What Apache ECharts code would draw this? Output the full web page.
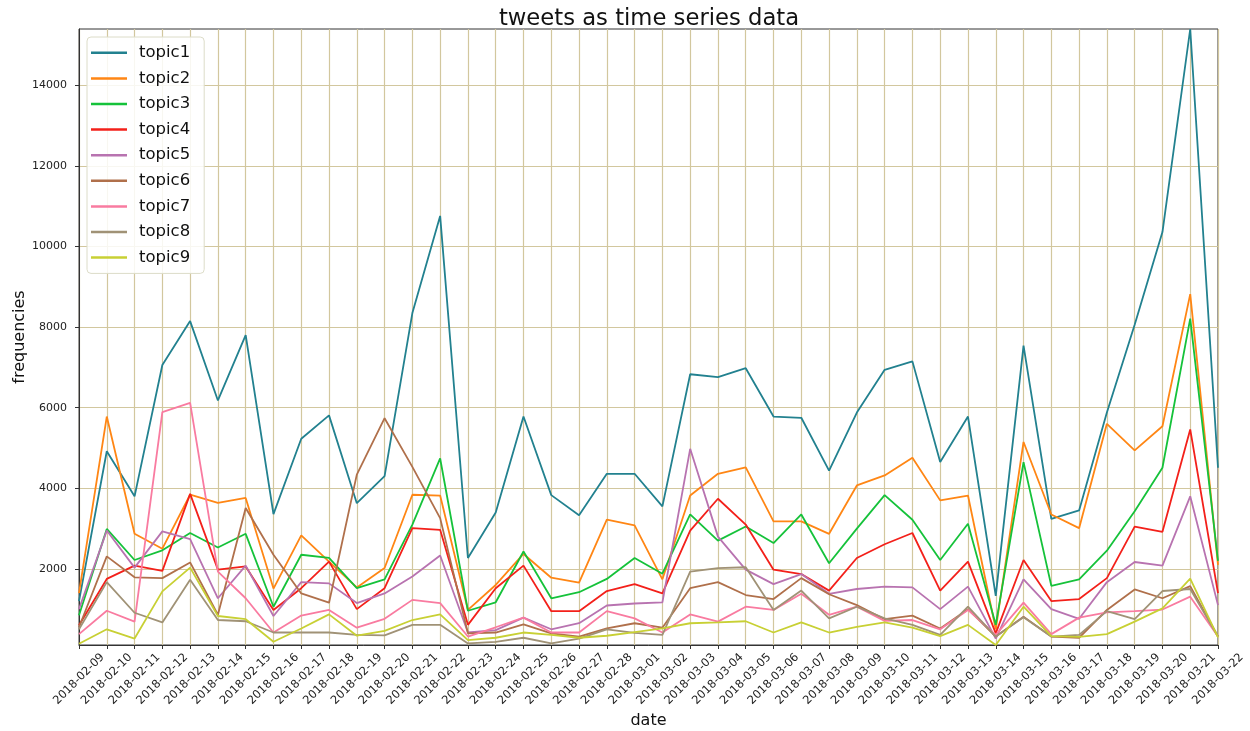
<!DOCTYPE html>
<html>
<head>
<meta charset="utf-8">
<script src="https://cdn.jsdelivr.net/npm/echarts@6/dist/echarts.min.js"></script>
<style>
html,body{margin:0;padding:0;background:#fff;}
#chart{width:1250px;height:731px;}
</style>
</head>
<body>
<div id="chart"></div>
<script>
var dates = ['2018-02-09','2018-02-10','2018-02-11','2018-02-12','2018-02-13','2018-02-14','2018-02-15','2018-02-16','2018-02-17','2018-02-18','2018-02-19','2018-02-20','2018-02-21','2018-02-22','2018-02-23','2018-02-24','2018-02-25','2018-02-26','2018-02-27','2018-02-28','2018-03-01','2018-03-02','2018-03-03','2018-03-04','2018-03-05','2018-03-06','2018-03-07','2018-03-08','2018-03-09','2018-03-10','2018-03-11','2018-03-12','2018-03-13','2018-03-14','2018-03-15','2018-03-16','2018-03-17','2018-03-18','2018-03-19','2018-03-20','2018-03-21','2018-03-22'];

var topic1 = [1200,4920,3800,7060,8150,6180,7800,3360,5230,5810,3630,4300,8350,10760,2270,3400,5780,3830,3330,4360,4360,3550,6830,6760,6980,5780,5750,4440,5880,6940,7150,4650,5780,1330,7540,3240,3450,5880,8060,10360,15400,4510];
var topic2 = [1400,5780,2870,2500,3840,3640,3760,1510,2830,2180,1540,2020,3840,3820,980,1600,2370,1780,1660,3220,3080,1740,3820,4360,4520,3180,3180,2870,4070,4320,4760,3700,3820,500,5150,3350,3010,5600,4940,5540,8820,2100];
var topic3 = [850,2990,2220,2460,2890,2530,2870,1060,2350,2270,1520,1740,3100,4740,960,1170,2430,1270,1420,1750,2270,1880,3350,2700,3050,2640,3350,2140,3000,3830,3220,2220,3120,610,4650,1580,1740,2450,3430,4510,8210,2200];
var topic4 = [600,1750,2080,1950,3860,1980,2060,980,1520,2180,1000,1520,3010,2970,610,1520,2080,950,950,1450,1620,1390,2950,3740,3100,1980,1870,1460,2270,2610,2890,1460,2180,400,2220,1200,1250,1770,3050,2920,5460,1400];
var topic5 = [1000,2950,2030,2930,2740,1270,2080,830,1670,1640,1150,1390,1810,2330,420,480,790,500,650,1090,1140,1170,4980,2800,1980,1620,1870,1380,1500,1560,1540,1000,1560,270,1740,1000,760,1670,2170,2080,3800,1100];
var topic6 = [550,2310,1790,1770,2160,860,3510,2350,1390,1160,4340,5740,4530,3260,400,420,620,400,320,520,650,540,1520,1670,1350,1250,1770,1370,1100,750,840,520,1000,320,810,320,290,980,1490,1270,1570,320];
var topic7 = [380,960,690,5890,6120,1930,1270,420,840,980,540,760,1230,1150,320,550,790,420,420,950,770,420,870,690,1060,980,1380,860,1060,710,730,500,980,360,1160,380,790,920,950,990,1310,320];
var topic8 = [500,1670,910,670,1730,730,700,420,420,420,360,350,610,610,150,190,290,150,270,500,410,360,1930,2020,2040,980,1460,770,1060,770,610,360,1060,320,800,320,360,950,750,1450,1500,320];
var topic9 = [140,500,270,1440,2030,830,750,190,520,870,340,460,730,870,230,290,420,360,290,340,430,520,650,670,700,420,670,420,560,670,540,330,610,110,1060,330,310,380,690,1020,1760,300];

var seriesNames = ['topic1','topic2','topic3','topic4','topic5','topic6','topic7','topic8','topic9'];
var seriesData = [topic1,topic2,topic3,topic4,topic5,topic6,topic7,topic8,topic9];
var colors = ['#22818f','#ff8614','#15c23a','#f3201a','#b873b0','#b0704b','#f97ba0','#a09276','#c8d034'];
var yTicks = [2000,4000,6000,8000,10000,12000,14000];

var gridColor = '#d2c79e';
var font = 'DejaVu Sans';

var chart = echarts.init(document.getElementById('chart'), null, {renderer:'canvas'});
var option = {
  animation: false,
  color: colors,
  title: {
    text: 'tweets as time series data',
    left: 644, textAlign: 'center', top: 3,
    textStyle: {fontFamily: font, fontSize: 22.7, fontWeight: 'normal', color: '#111'}
  },
  legend: {
    orient: 'vertical', left: 87, top: 37,
    data: seriesNames,
    icon: 'rect', itemWidth: 36, itemHeight: 2.5, itemGap: 6,
    padding: [6, 14, 6, 4],
    backgroundColor: 'rgba(255,255,255,0.85)',
    borderColor: '#dcdcc8', borderWidth: 1, borderRadius: 4,
    textStyle: {fontFamily: font, fontSize: 16.5, color: '#111', lineHeight: 19.6, padding:[0,0,0,7]}
  },
  grid: {left: 79, right: 32, top: 29, bottom: 86, show: true, borderColor: '#333', borderWidth: 1,
    backgroundColor: 'transparent', outerBoundsMode: 'none', containLabel: false},
  xAxis: {
    type: 'category', data: dates, boundaryGap: false,
    name: 'date', nameLocation: 'middle', nameGap: 68, nameMoveOverlap: false,
    nameTextStyle: {fontFamily: font, fontSize: 16, color: '#111'},
    axisLine: {show: true, lineStyle: {color: '#333'}},
    axisTick: {show: true, interval: 0, length: 4, lineStyle: {color: '#333'}},
    axisLabel: {interval: 0, rotate: 45, align: 'center', verticalAlign: 'middle', margin: 34,
      fontFamily: font, fontSize: 11.5, color: '#222'},
    splitLine: {show: true, interval: 0, lineStyle: {color: gridColor, width: 1.2}}
  },
  yAxis: {
    type: 'value', min: 110, max: 15400,
    name: 'frequencies', nameLocation: 'middle', nameGap: 51, nameMoveOverlap: false,
    nameTextStyle: {fontFamily: font, fontSize: 16, color: '#111'},
    axisLine: {show: true, lineStyle: {color: '#333'}},
    axisTick: {show: true, length: 4, customValues: yTicks, lineStyle: {color: '#333'}},
    axisLabel: {customValues: yTicks, margin: 12, fontFamily: font, fontSize: 11, color: '#222',
      formatter: function(v){ return String(Math.round(v)); }},
    splitLine: {show: true, lineStyle: {color: gridColor, width: 1.2}}
  },
  series: seriesNames.map(function(n, k){
    return {
      name: n, type: 'line', data: seriesData[k],
      symbol: 'none', showSymbol: false,
      lineStyle: {width: 1.8, color: colors[k]},
      itemStyle: {color: colors[k]},
      z: 2 + k
    };
  })
};
chart.setOption(option);
</script>
</body>
</html>
